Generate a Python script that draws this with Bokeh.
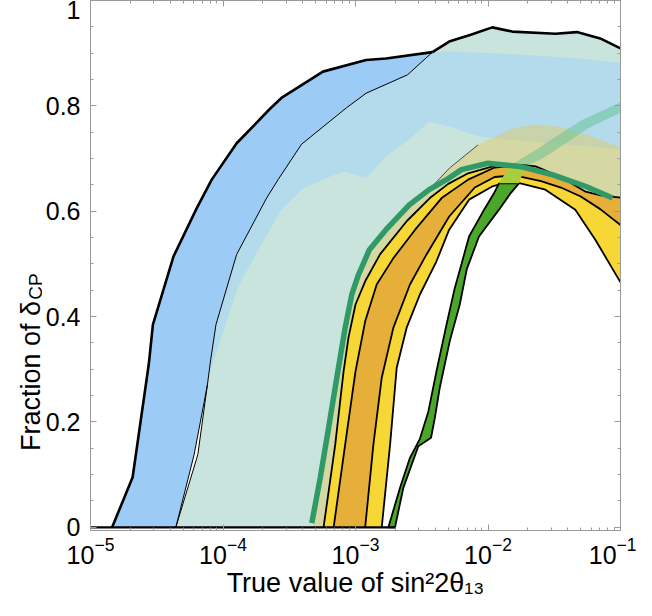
import numpy as np
from bokeh.plotting import figure
from bokeh.layouts import row
from bokeh.models import Range1d, LogAxis, LinearAxis, FixedTicker, NumeralTickFormatter, Label, LogTicker, CustomJSTickFormatter
from bokeh.embed import file_html
from bokeh.resources import INLINE

# ---- data: x values are log10(sin^2 2theta13), y = fraction of delta_CP ----
# blue band (left edge thick, right edge thin)
blue_left_lx = [-4.837, -4.682, -4.56, -4.529, -4.374, -4.198, -4.085, -3.897, -3.647, -3.559, -3.246, -2.92, -2.77, -2.419]
blue_left_y = [0.0, 0.095, 0.31, 0.385, 0.514, 0.606, 0.66, 0.729, 0.794, 0.815, 0.865, 0.887, 0.890, 0.902]
blue_right_lx = [-4.356, -4.218, -4.118, -4.093, -4.053, -3.897, -3.671, -3.584, -3.408, -3.070, -2.92, -2.607, -2.419]
blue_right_y = [0.0, 0.138, 0.27, 0.318, 0.385, 0.518, 0.625, 0.66, 0.727, 0.796, 0.824, 0.859, 0.902]
# teal band
teal_left_lx = [-4.356, -4.19, -4.118]
teal_left_y = [0.0, 0.138, 0.27]
teal_top_lx = [-2.419, -2.293, -2.13, -1.968, -1.817, -1.491, -1.329, -1.153, -1.0]
teal_top_y = [0.902, 0.922, 0.935, 0.949, 0.941, 0.937, 0.940, 0.928, 0.909]
# light blue band
lblue_top_lx = [-4.105, -4.093, -4.053, -3.897, -3.671, -3.584, -3.408, -3.070, -2.92, -2.607, -2.419, -2.293, -1.8, -1.3, -1.0]
lblue_top_y = [0.29, 0.318, 0.385, 0.518, 0.625, 0.66, 0.727, 0.796, 0.824, 0.859, 0.902, 0.903, 0.898, 0.89, 0.882]
lblue_bot_lx = [-4.105, -3.886, -3.647, -3.566, -3.391, -3.165, -3.083, -2.92, -2.757, -2.594, -2.444, -2.29, -2.07, -1.8, -1.5, -1.2, -1.0]
lblue_bot_y = [0.29, 0.457, 0.565, 0.60, 0.644, 0.669, 0.675, 0.663, 0.707, 0.736, 0.770, 0.761, 0.742, 0.735, 0.728, 0.722, 0.717]
# faded outer band
faded_out_lx = [-3.32, -3.19, -3.07, -2.98, -2.89, -2.77, -2.6, -2.466, -2.29, -2.075, -1.825, -1.65, -1.45, -1.25, -1.0]
faded_out_y = [0.0, 0.19, 0.38, 0.48, 0.53, 0.566, 0.611, 0.635, 0.682, 0.726, 0.756, 0.765, 0.76, 0.745, 0.722]
# rainbow arcs
arc1_lx = [-3.241, -3.153, -3.09, -3.053, -3.0, -2.927, -2.815, -2.614, -2.439, -2.3, -2.15, -1.95]
arc1_y = [0.0, 0.157, 0.296, 0.36, 0.423, 0.467, 0.518, 0.581, 0.625, 0.652, 0.672, 0.686]
arc2_lx = [-3.165, -3.078, -3.0, -2.927, -2.84, -2.714, -2.55, -2.35, -2.15, -1.95, -1.75, -1.64, -1.45, -1.263, -1.15, -1.0]
arc2_y = [0.0, 0.157, 0.296, 0.391, 0.461, 0.511, 0.565, 0.625, 0.66, 0.683, 0.688, 0.685, 0.665, 0.637, 0.630, 0.626]
arc3_lx = [-2.927, -2.865, -2.802, -2.714, -2.589, -2.464, -2.293, -2.1, -1.95, -1.8, -1.6, -1.45, -1.30, -1.153, -1.0]
arc3_y = [0.0, 0.157, 0.284, 0.379, 0.461, 0.518, 0.59, 0.645, 0.665, 0.668, 0.657, 0.645, 0.628, 0.604, 0.574]
arc4_lx = [-2.802, -2.739, -2.689, -2.614, -2.514, -2.389, -2.293, -2.143, -1.968, -1.85, -1.755, -1.567, -1.341, -1.19, -1.0]
arc4_y = [0.0, 0.157, 0.303, 0.379, 0.442, 0.505, 0.565, 0.622, 0.647, 0.655, 0.653, 0.641, 0.603, 0.546, 0.465]
# green band
green_left_lx = [-2.752, -2.664, -2.589, -2.514, -2.45, -2.389, -2.313, -2.251, -2.2, -2.143, -2.043, -1.955, -1.917]
green_left_y = [0.0, 0.075, 0.132, 0.168, 0.22, 0.296, 0.385, 0.454, 0.50, 0.552, 0.597, 0.634, 0.653]
green_right_lx = [-2.702, -2.639, -2.526, -2.43, -2.401, -2.364, -2.289, -2.213, -2.16, -2.068, -1.917, -1.83, -1.767]
green_right_y = [0.0, 0.075, 0.154, 0.17, 0.208, 0.265, 0.353, 0.423, 0.49, 0.552, 0.603, 0.634, 0.653]
cross_left_lx = [-1.917, -1.87, -1.84]
cross_left_y = [0.653, 0.672, 0.686]
cross_right_lx = [-1.767, -1.74, -1.71]
cross_right_y = [0.653, 0.67, 0.686]
stripe_top_lx = [-1.84, -1.65, -1.466, -1.29, -1.0]
stripe_top_y = [0.686, 0.715, 0.745, 0.773, 0.807]
stripe_bot_lx = [-1.71, -1.59, -1.466, -1.241, -1.0]
stripe_bot_y = [0.686, 0.70, 0.72, 0.758, 0.787]
# thick green curve
curve_lx = [-3.33, -3.266, -3.203, -3.141, -3.078, -3.028, -2.98, -2.895, -2.77, -2.594, -2.444, -2.3, -2.2, -2.0, -1.76, -1.51, -1.26, -1.06]
curve_y = [0.008, 0.094, 0.189, 0.284, 0.379, 0.442, 0.478, 0.527, 0.565, 0.612, 0.641, 0.662, 0.679, 0.691, 0.685, 0.669, 0.647, 0.625]
zero_lx = [-5.0, -2.702]
zero_y = [0.0, 0.0]

y_ticks = [0, 0.2, 0.4, 0.6, 0.8, 1.0]
y_minor = [round(0.05 * i, 2) for i in range(21)]
y_title = "Fraction of δ"
y_title_sub = "CP"
x_title = "True value of sin²2θ₁₃"


def X(a):
    return [10.0 ** v for v in a]


def rev(a):
    return list(a)[::-1]


FONT = "Liberation Sans"
GRAY = "#9a9a9a"
H = 600
Y0, Y1 = -0.006, 1.0
LAB_W = 42

p = figure(x_axis_type="log", x_range=Range1d(1e-5, 1e-1), y_range=Range1d(Y0, Y1),
           width=636 - LAB_W, height=H, output_backend="svg", toolbar_location=None,
           min_border_left=46, min_border_right=16, min_border_top=0, min_border_bottom=66)
p.grid.visible = False
p.outline_line_color = None
p.background_fill_color = "white"

# teal (bottom layer)
i175 = arc2_lx.index(-1.75)
outer_lx = arc1_lx + arc2_lx[i175:]
outer_y = arc1_y + arc2_y[i175:]
k = blue_right_lx.index(-4.093)
t_x = teal_left_lx + blue_right_lx[k:] + teal_top_lx[1:] + rev(outer_lx)
t_y = teal_left_y + blue_right_y[k:] + teal_top_y[1:] + rev(outer_y)
p.patch(X(t_x), t_y, fill_color="#c8e4dc", line_color=None)

# light blue
p.patch(X(lblue_top_lx + rev(lblue_bot_lx)), lblue_top_y + rev(lblue_bot_y), fill_color="#b3dbec", line_color=None)

# blue band
p.patch(X(blue_left_lx + rev(blue_right_lx)), blue_left_y + rev(blue_right_y), fill_color="#9ccbf6", line_color=None)

# faded outer band
p.patch(X(faded_out_lx + rev(outer_lx)), faded_out_y + rev(outer_y), fill_color="#e8c850", fill_alpha=0.42, line_color=None)

# faded green stripe
p.patch(X(stripe_top_lx + rev(stripe_bot_lx)), stripe_top_y + rev(stripe_bot_y), fill_color="#5cbf8c", fill_alpha=0.45, line_color=None)

# yellow rainbow
p.patch(X(outer_lx + rev(arc4_lx)), outer_y + rev(arc4_y), fill_color="#f6d736", line_color=None)
# orange rainbow
p.patch(X(arc2_lx + rev(arc3_lx)), arc2_y + rev(arc3_y), fill_color="#e6af3a", line_color=None)

for lx, ly in [(arc1_lx, arc1_y), (arc2_lx, arc2_y), (arc3_lx, arc3_y), (arc4_lx, arc4_y)]:
    p.line(X(lx), ly, line_color="black", line_width=1.8)

# green band
p.patch(X(green_left_lx + rev(green_right_lx)), green_left_y + rev(green_right_y),
        fill_color="#4aa72a", line_color="black", line_width=1.8)
p.patch(X(cross_left_lx + rev(cross_right_lx)), cross_left_y + rev(cross_right_y),
        fill_color="#a9cd3c", line_color=None)

# outlines
p.line(X(blue_left_lx), blue_left_y, line_color="black", line_width=2.6)
p.line(X(teal_top_lx), teal_top_y, line_color="black", line_width=2.6)
p.line(X(blue_right_lx), blue_right_y, line_color="black", line_width=1.0)
p.line(X(teal_left_lx), teal_left_y, line_color="black", line_width=1.0)
p.line(X(faded_out_lx[7:10]), faded_out_y[7:10], line_color="black", line_width=0.8, line_alpha=0.8)
p.line(X(zero_lx), zero_y, line_color="black", line_width=2.2)

# thick green curve
p.line(X(curve_lx), curve_y, line_color="#2f9a68", line_width=5.5)

# axes styling
for ax in (p.xaxis[0], p.yaxis[0]):
    ax.axis_line_color = GRAY
    ax.major_tick_line_color = GRAY
    ax.minor_tick_line_color = GRAY
    ax.major_tick_in = 6
    ax.major_tick_out = 0
    ax.minor_tick_in = 3
    ax.minor_tick_out = 0
    ax.major_label_text_font = FONT
    ax.major_label_text_font_size = "25px"
    ax.major_label_text_color = "black"

p.xaxis[0].major_label_standoff = 6
p.yaxis[0].major_label_standoff = 10
p.xaxis[0].ticker = LogTicker(num_minor_ticks=10)
p.yaxis[0].ticker = FixedTicker(ticks=y_ticks, minor_ticks=y_minor)
p.yaxis[0].formatter = NumeralTickFormatter(format="0.[0]")
p.xaxis[0].axis_label = x_title
p.xaxis[0].axis_label_text_font = FONT
p.xaxis[0].axis_label_text_font_size = "27px"
p.xaxis[0].axis_label_text_font_style = "normal"
p.xaxis[0].axis_label_text_color = "black"
p.xaxis[0].axis_label_standoff = 1

blank = CustomJSTickFormatter(code="return ''")
top = LogAxis(ticker=LogTicker(num_minor_ticks=10), formatter=blank, axis_line_color=GRAY, major_tick_line_color=GRAY,
              minor_tick_line_color=GRAY, major_tick_in=6, major_tick_out=0, minor_tick_in=3, minor_tick_out=0,
              major_label_standoff=0, major_label_text_font_size="1px")
right = LinearAxis(ticker=FixedTicker(ticks=y_ticks, minor_ticks=y_minor), formatter=blank, axis_line_color=GRAY,
                   major_tick_line_color=GRAY, minor_tick_line_color=GRAY, major_tick_in=6, major_tick_out=0,
                   minor_tick_in=3, minor_tick_out=0, major_label_standoff=0, major_label_text_font_size="1px")
p.add_layout(top, "above")
p.add_layout(right, "right")

# narrow side panel carrying the rotated y-axis title with its subscript;
# its frame is aligned with the main frame, so it shares the main y scale
lab = figure(width=LAB_W, height=H, x_range=Range1d(0, LAB_W), y_range=Range1d(Y0, Y1), output_backend="svg",
             toolbar_location=None, title=None, x_axis_location=None, y_axis_location=None,
             min_border=0, min_border_left=0, min_border_right=0, min_border_top=0, min_border_bottom=0)
lab.grid.visible = False
lab.outline_line_color = None
lab.add_layout(Label(x=30, y=0.145, text=y_title, angle=np.pi / 2, text_align="left", text_color="black",
                     text_baseline="alphabetic", text_font=FONT, text_font_size="27px"))
lab.add_layout(Label(x=35, y=0.432, text=y_title_sub, angle=np.pi / 2, text_align="left", text_color="black",
                     text_baseline="alphabetic", text_font=FONT, text_font_size="19px"))

layout = row(lab, p)
open("out.html", "w").write(file_html(layout, INLINE))
